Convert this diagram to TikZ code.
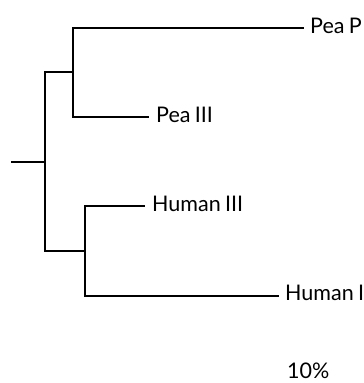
\documentclass[tikz,border=0pt]{standalone}
\usepackage{fontspec}
\setmainfont{Lato}
\newcommand{\gap}{\hspace{0.2em}}
\begin{document}
\begin{tikzpicture}[x=1pt,y=-1pt,
  branch/.style={line width=1.4pt,line cap=rect},
  leaf/.style={anchor=base west,inner sep=0pt,font=\fontsize{21.5}{26}\selectfont}]
\useasboundingbox (0,0) rectangle (364,383);
% internal nodes of the tree
\coordinate (root) at (12,162);
\coordinate (r) at (45,162);
\coordinate (pea) at (73,72);
\coordinate (hum) at (85,251);
% leaf ends of the branches
\coordinate (peaP) at (303,28);
\coordinate (peaIII) at (148,117);
\coordinate (humIII) at (144,206);
\coordinate (humI) at (278,296);
% labels
\node[leaf] (lpeaP) at (310,33) {Pea\gap P};
\node[leaf] (lpeaIII) at (156,122) {Pea\gap III};
\node[leaf] (lhumIII) at (152,211) {Human\gap III};
\node[leaf] (lhumI) at (285,300) {Human\gap I};
\node[leaf] (scale) at (287,378) {10\%};
% branches
\draw[branch] (root) -- (r);
\draw[branch] (r |- pea) -- (r |- hum);
\draw[branch] (r |- pea) -- (pea);
\draw[branch] (r |- hum) -- (hum);
\draw[branch] (pea |- peaP) -- (pea |- peaIII);
\draw[branch] (pea |- peaP) -- (peaP);
\draw[branch] (pea |- peaIII) -- (peaIII);
\draw[branch] (hum |- humIII) -- (hum |- humI);
\draw[branch] (hum |- humIII) -- (humIII);
\draw[branch] (hum |- humI) -- (humI);
\end{tikzpicture}
\end{document}
